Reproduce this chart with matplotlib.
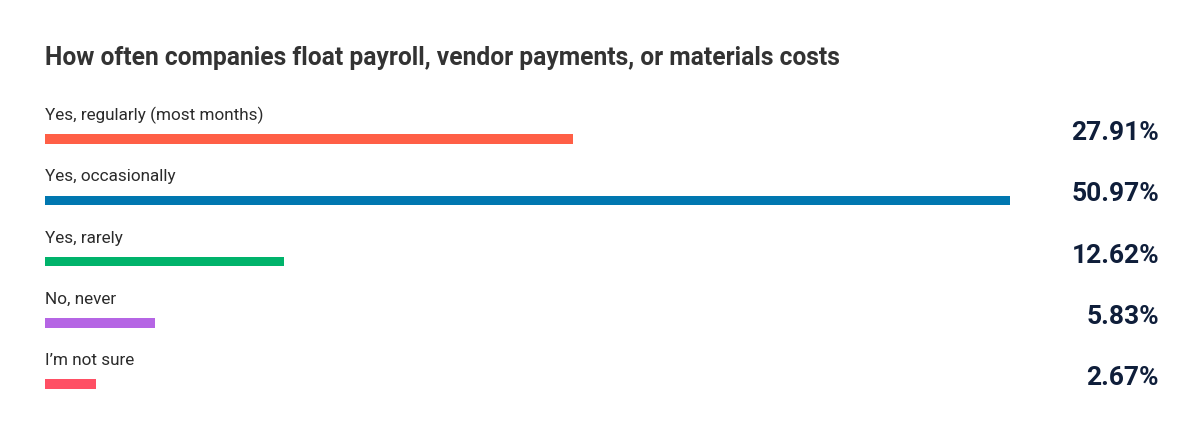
import matplotlib
matplotlib.use("Agg")
import matplotlib.pyplot as plt
import matplotlib.transforms as mtransforms

categories = ["Yes, regularly (most months)", "Yes, occasionally", "Yes, rarely",
              "No, never", "I\u2019m not sure"]
values = [27.91, 50.97, 12.62, 5.83, 2.67]
value_labels = ["27.91%", "50.97%", "12.62%", "5.83%", "2.67%"]
colors = ["#FF5F46", "#0077B0", "#00B36B", "#B565E4", "#FF4F64"]
title = "How often companies float payroll, vendor payments, or materials costs"

W, H = 1200, 430
fig = plt.figure(figsize=(W / 100, H / 100), dpi=100)
fig.patch.set_facecolor("white")

x0, x1 = 45, 1010
ax = fig.add_axes([x0 / W, 0, (x1 - x0) / W, 1])
ax.set_xlim(0, max(values))
top_c, step = 139, 61.3
ax.set_ylim((H - top_c) / step, -top_c / step)
ax.axis("off")

ypos = list(range(len(categories)))
ax.barh(ypos, values, height=9.5 / step, color=colors, align="center")

fam = ["Roboto", "DejaVu Sans"]
trans_lbl = mtransforms.blended_transform_factory(ax.transAxes, ax.transData)
trans_val = mtransforms.blended_transform_factory(fig.transFigure, ax.transData)
for i, (c, v) in enumerate(zip(categories, value_labels)):
    ax.text(0, i - 23.5 / step, c, transform=trans_lbl, ha="left", va="center",
            fontsize=12.3, color="#2b2b2b", family=fam)
    ax.text(1159 / W, i - 6 / step, v, transform=trans_val, ha="right", va="center",
            fontsize=19, fontweight="bold", color="#0F1E3A", family=fam)

fig.text(x0 / W, 1 - 58.5 / H, title, ha="left", va="center", fontsize=17.7,
         fontweight="bold", color="#333333", family=fam)

fig.savefig("out.png", dpi=100, facecolor="white")
